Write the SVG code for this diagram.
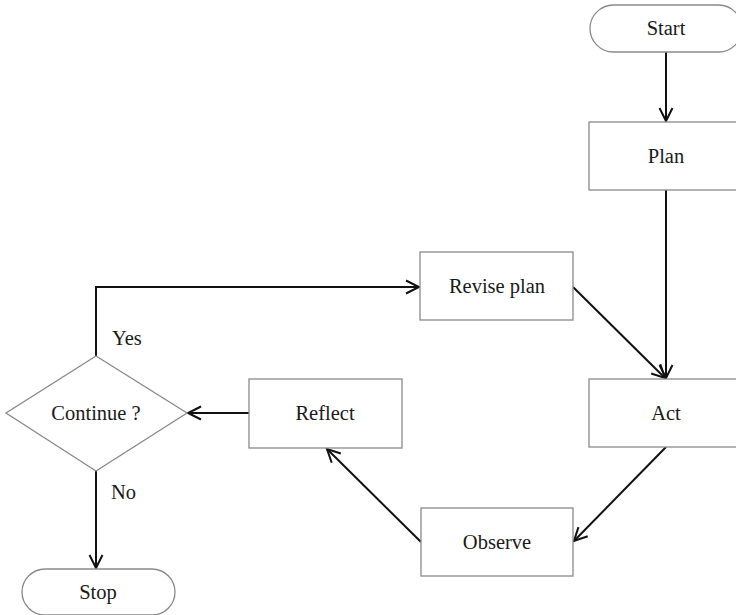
<svg xmlns="http://www.w3.org/2000/svg" width="736" height="615" viewBox="0 0 736 615">
  <style>
    .box { fill: #ffffff; stroke: #8a8a8a; stroke-width: 1.3; }
    .lbl { font-family: "Liberation Serif", "DejaVu Serif", serif; font-size: 20.5px; fill: #1a1a1a; text-anchor: middle; }
    .side { font-family: "Liberation Serif", "DejaVu Serif", serif; font-size: 20.5px; fill: #1a1a1a; }
    .edge { fill: none; stroke: #111111; stroke-width: 2; marker-end: url(#arrow); }
  </style>
  <defs>
    <marker id="arrow" markerUnits="userSpaceOnUse" markerWidth="24" markerHeight="24" viewBox="-18 -12 24 24" refX="0" refY="0" orient="auto">
      <path d="M-13,-6.5 L0,0 L-13,6.5" fill="none" stroke="#111111" stroke-width="2"/>
    </marker>
  </defs>
  <rect width="736" height="615" fill="#ffffff"/>

  <g id="connectors">
    <path class="edge" d="M666,52 L666,121"/>
    <path class="edge" d="M666,190 L666,378"/>
    <path class="edge" d="M573,287 L665,378"/>
    <path class="edge" d="M666,447 L574,541"/>
    <path class="edge" d="M421,542 L327,449"/>
    <path class="edge" d="M249,413 L188,413"/>
    <path class="edge" d="M96,356 L96,287 L419,287"/>
    <path class="edge" d="M96,471 L96,568"/>
  </g>

  <g id="start">
    <rect class="box" x="590" y="5" width="152" height="47" rx="23.5"/>
    <text class="lbl" x="666" y="35" font-family="Liberation Serif, serif">Start</text>
  </g>
  <g id="plan">
    <rect class="box" x="589" y="122" width="154" height="68"/>
    <text class="lbl" x="666" y="163">Plan</text>
  </g>
  <g id="revise">
    <rect class="box" x="420" y="252" width="153" height="68"/>
    <text class="lbl" x="497" y="293">Revise plan</text>
  </g>
  <g id="act">
    <rect class="box" x="589" y="379" width="154" height="68"/>
    <text class="lbl" x="666" y="420">Act</text>
  </g>
  <g id="observe">
    <rect class="box" x="421" y="508" width="152" height="68"/>
    <text class="lbl" x="497" y="549">Observe</text>
  </g>
  <g id="reflect">
    <rect class="box" x="249" y="379" width="153" height="69"/>
    <text class="lbl" x="325" y="420">Reflect</text>
  </g>
  <g id="decision">
    <polygon class="box" points="96,356 187,413 96,471 6,413"/>
    <text class="lbl" x="96" y="420">Continue ?</text>
    <text class="side" x="112" y="345">Yes</text>
    <text class="side" x="111" y="499">No</text>
  </g>
  <g id="stop">
    <rect class="box" x="22" y="569" width="153" height="46" rx="23"/>
    <text class="lbl" x="98" y="599">Stop</text>
  </g>
</svg>
